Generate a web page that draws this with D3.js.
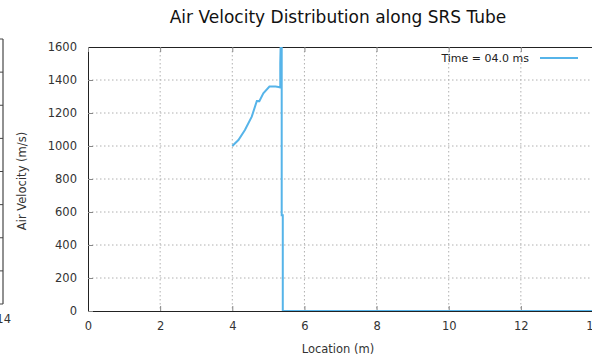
<!DOCTYPE html>
<html><head><meta charset="utf-8">
<script src="https://cdn.jsdelivr.net/npm/d3@7"></script>
<style>
html,body{margin:0;padding:0;background:#fff;}
svg{display:block;}
text{font-family:"DejaVu Sans",sans-serif;}
</style></head>
<body>
<svg id="chart" width="592" height="356"></svg>
<script>
// ---- data ----
const title = "Air Velocity Distribution along SRS Tube";
const xLabel = "Location (m)";
const yLabel = "Air Velocity (m/s)";
const seriesName = "Time = 04.0 ms";
const xTicks = [0, 2, 4, 6, 8, 10, 12, 14];
const yTicks = [0, 200, 400, 600, 800, 1000, 1200, 1400, 1600];
const tubeLocation = [4.0, 4.17, 4.35, 4.54, 4.68, 4.75, 4.86, 5.03, 5.2, 5.28, 5.33, 5.33, 5.37, 5.37, 5.40, 5.40, 14.0];
const airVelocity = [1000, 1036, 1097, 1178, 1273, 1272, 1319, 1360, 1360, 1358, 1355, 1500, 1900, 580, 580, 0, 0];
// neighbouring panel fragment on the left edge
const prevTicks = [0, 1, 2, 3, 4, 5, 6, 7, 8];
const prevLabel = "14";

// ---- layout ----
const svg = d3.select("#chart");
const m = {left: 88, top: 47, right: 593, bottom: 311};
const x = d3.scaleLinear().domain([0, 14]).range([m.left, m.right]);
const y = d3.scaleLinear().domain([0, 1600]).range([m.bottom, m.top]);
const lineCol = "#56b4e9";

svg.append("defs").append("clipPath").attr("id", "clip")
  .append("rect").attr("x", m.left).attr("y", m.top)
  .attr("width", m.right - m.left).attr("height", m.bottom - m.top);

// grid
const g = svg.append("g");
g.selectAll(".vg").data(xTicks.filter(d => d > 0 && d < 14)).enter().append("line")
  .attr("x1", d => x(d)).attr("x2", d => x(d)).attr("y1", m.top).attr("y2", m.bottom)
  .attr("stroke", "#b0b0b0").attr("stroke-width", 1).attr("stroke-dasharray", "1.5,2.5");
g.selectAll(".hg").data(yTicks.filter(d => d > 0 && d < 1600)).enter().append("line")
  .attr("x1", m.left).attr("x2", m.right).attr("y1", d => y(d)).attr("y2", d => y(d))
  .attr("stroke", "#b0b0b0").attr("stroke-width", 1).attr("stroke-dasharray", "1.5,2.5");

// axes (ticks inside)
const axB = d3.axisBottom(x).tickValues(xTicks).tickSize(-5).tickPadding(11).tickFormat(d3.format("d"));
const axL = d3.axisLeft(y).tickValues(yTicks).tickSize(-5).tickPadding(11).tickFormat(d3.format("d"));
const axT = d3.axisTop(x).tickValues(xTicks).tickSize(-5).tickFormat("");
function styleAxis(sel){
  sel.select(".domain").attr("stroke", "#222");
  sel.selectAll(".tick line").attr("stroke", "#888");
  sel.selectAll("text").attr("fill", "#333").style("font-size", "11.5px").style("font-family", "'DejaVu Sans',sans-serif");
}
svg.append("g").attr("transform", `translate(0,${m.bottom})`).call(axB).call(styleAxis);
svg.append("g").attr("transform", `translate(${m.left},0)`).call(axL).call(styleAxis);
svg.append("g").attr("transform", `translate(0,${m.top})`).call(axT).call(styleAxis);

// data line
const line = d3.line().x((d, i) => x(tubeLocation[i])).y((d, i) => y(airVelocity[i]));
svg.append("path").datum(airVelocity).attr("clip-path", "url(#clip)")
  .attr("d", line).attr("fill", "none").attr("stroke", lineCol).attr("stroke-width", 2);

// legend
svg.append("text").attr("x", 529).attr("y", 62).attr("text-anchor", "end")
  .style("font-size", "11px").attr("fill", "#222").text(seriesName);
svg.append("line").attr("x1", 540).attr("x2", 578).attr("y1", 58).attr("y2", 58)
  .attr("stroke", lineCol).attr("stroke-width", 2);

// title & labels
svg.append("text").attr("x", 338).attr("y", 23).attr("text-anchor", "middle")
  .style("font-size", "17px").attr("fill", "#111").text(title);
svg.append("text").attr("x", 338).attr("y", 353).attr("text-anchor", "middle")
  .style("font-size", "11.5px").attr("fill", "#333").text(xLabel);
svg.append("text").attr("transform", "translate(26,181) rotate(-90)").attr("text-anchor", "middle")
  .style("font-size", "11.5px").attr("fill", "#333").text(yLabel);

// left neighbouring panel fragment
const py = d3.scaleLinear().domain([0, 8]).range([304, 39]);
svg.append("line").attr("x1", 3).attr("x2", 3).attr("y1", py(0)).attr("y2", py(8)).attr("stroke", "#222");
svg.selectAll(".pt").data(prevTicks).enter().append("line")
  .attr("x1", 0).attr("x2", 3).attr("y1", d => py(d)).attr("y2", d => py(d)).attr("stroke", "#444");
svg.append("text").attr("x", 11).attr("y", 323).attr("text-anchor", "end")
  .style("font-size", "11.5px").attr("fill", "#333").text(prevLabel);
</script>
</body></html>
